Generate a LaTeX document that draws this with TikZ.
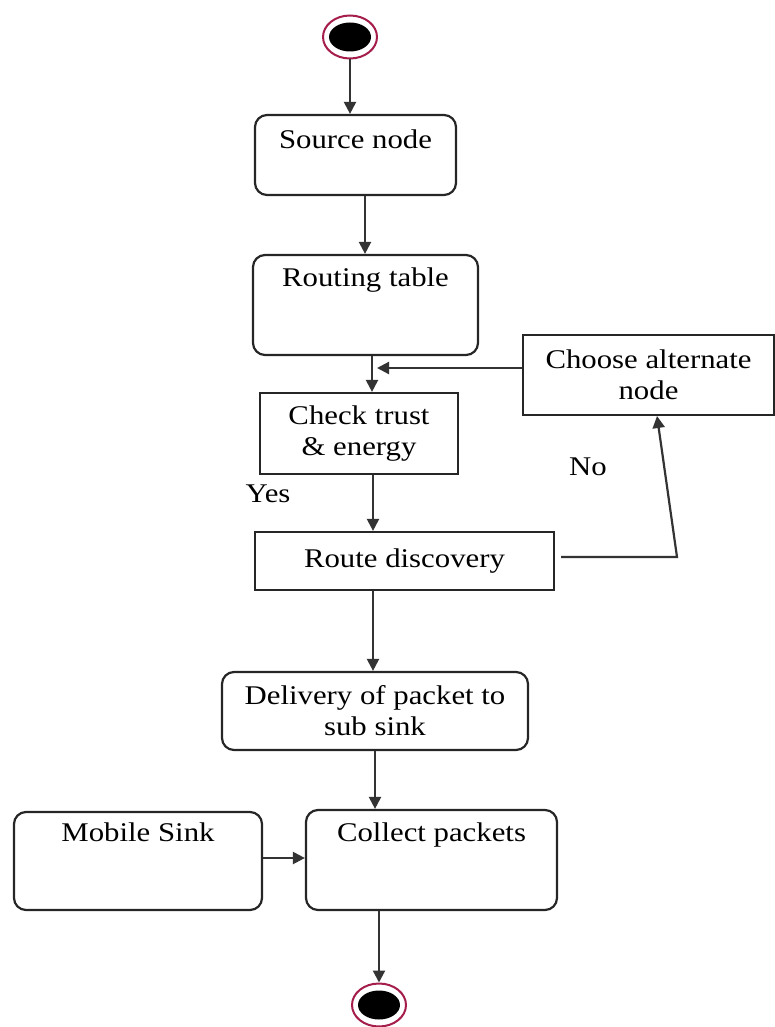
\documentclass[tikz,border=0pt]{standalone}
\usepackage{fontspec}
\setmainfont[FakeStretch=1.14]{Liberation Serif}
\usetikzlibrary{shapes.geometric,arrows.meta,calc}
\definecolor{ringc}{RGB}{165,30,75}
\begin{document}
\begin{tikzpicture}[x=1pt,y=-1pt,
  font=\fontsize{27}{31}\selectfont,
  every node/.style={inner sep=0pt},
  rbox/.style={draw=black!85, line width=2.2pt, rounded corners=12pt, align=center},
  sbox/.style={draw=black!85, line width=2.2pt, align=center},
  line/.style={line width=2.2pt, draw=black!80},
  conn/.style={line, -{Triangle[length=12pt,width=12pt]}},
  ring/.style={ellipse, draw=ringc, line width=2pt, minimum width=54pt, minimum height=43pt},
  txt/.style={align=center}]
\useasboundingbox (0,0) rectangle (775,1027);
% start / end
\node[ring] (start) at (350,37) {};
\fill (start.center) ellipse [x radius=21, y radius=14.5];
\node[ring] (end) at (379,1005) {};
\fill (end.center) ellipse [x radius=21, y radius=14.5];
% boxes
\node[rbox, minimum width=201pt, minimum height=80pt,
  label={[anchor=center,yshift=-25pt]north:Source node}] (src) at (355.5,155) {};
\node[rbox, minimum width=225pt, minimum height=100pt,
  label={[anchor=center,yshift=-26pt]north:Routing table}] (rt) at (365.5,305) {};
\node[sbox, minimum width=198pt, minimum height=81pt] (chk) at (359,433.5) {Check trust\\\& energy};
\node[sbox, minimum width=251pt, minimum height=80pt] (alt) at (648.5,375) {Choose alternate\\node};
\node[sbox, minimum width=299pt, minimum height=58pt] (rd) at (404.5,561) {\raisebox{6pt}{Route discovery}};
\node[rbox, minimum width=306pt, minimum height=78pt] (del) at (375,711) {Delivery of packet to\\sub sink};
\node[rbox, minimum width=248pt, minimum height=98pt,
  label={[anchor=center,yshift=-21pt]north:Mobile Sink}] (ms) at (138,861) {};
\node[rbox, minimum width=251pt, minimum height=100pt,
  label={[anchor=center,yshift=-26pt]north:Collect packets}] (cp) at (431.5,860) {};
% labels
\node[txt] (yes) at (268,494) {Yes};
\node[txt] (no) at (588,467) {No};
% spine coordinates
\coordinate (j) at (372,368);
\coordinate (k) at (373,0);
\coordinate (m) at (375,0);
\coordinate (nr) at (677,557);
% connectors
\draw[conn] (start.south) -- (start.south |- src.north);
\draw[conn] (src.south -| 365,0) -- (rt.north -| 365,0);
\draw[line] (rt.south -| j) -- (j);
\draw[conn] (j) -- (chk.north -| j);
\draw[conn] (alt.west |- j) -- ($(j)+(5,0)$);
\draw[conn] (chk.south -| k) -- (rd.north -| k);
\draw[conn] (rd.south -| k) -- (del.north -| k);
\draw[conn] (del.south -| m) -- (cp.north -| m);
\draw[conn] (ms.east |- 0,858) -- (cp.west |- 0,858);
\draw[conn] (cp.south -| end) -- (end.north);
\draw[conn] ($(rd.east)+(6,-4)$) -- (nr) -- (657,416);
\end{tikzpicture}
\end{document}
